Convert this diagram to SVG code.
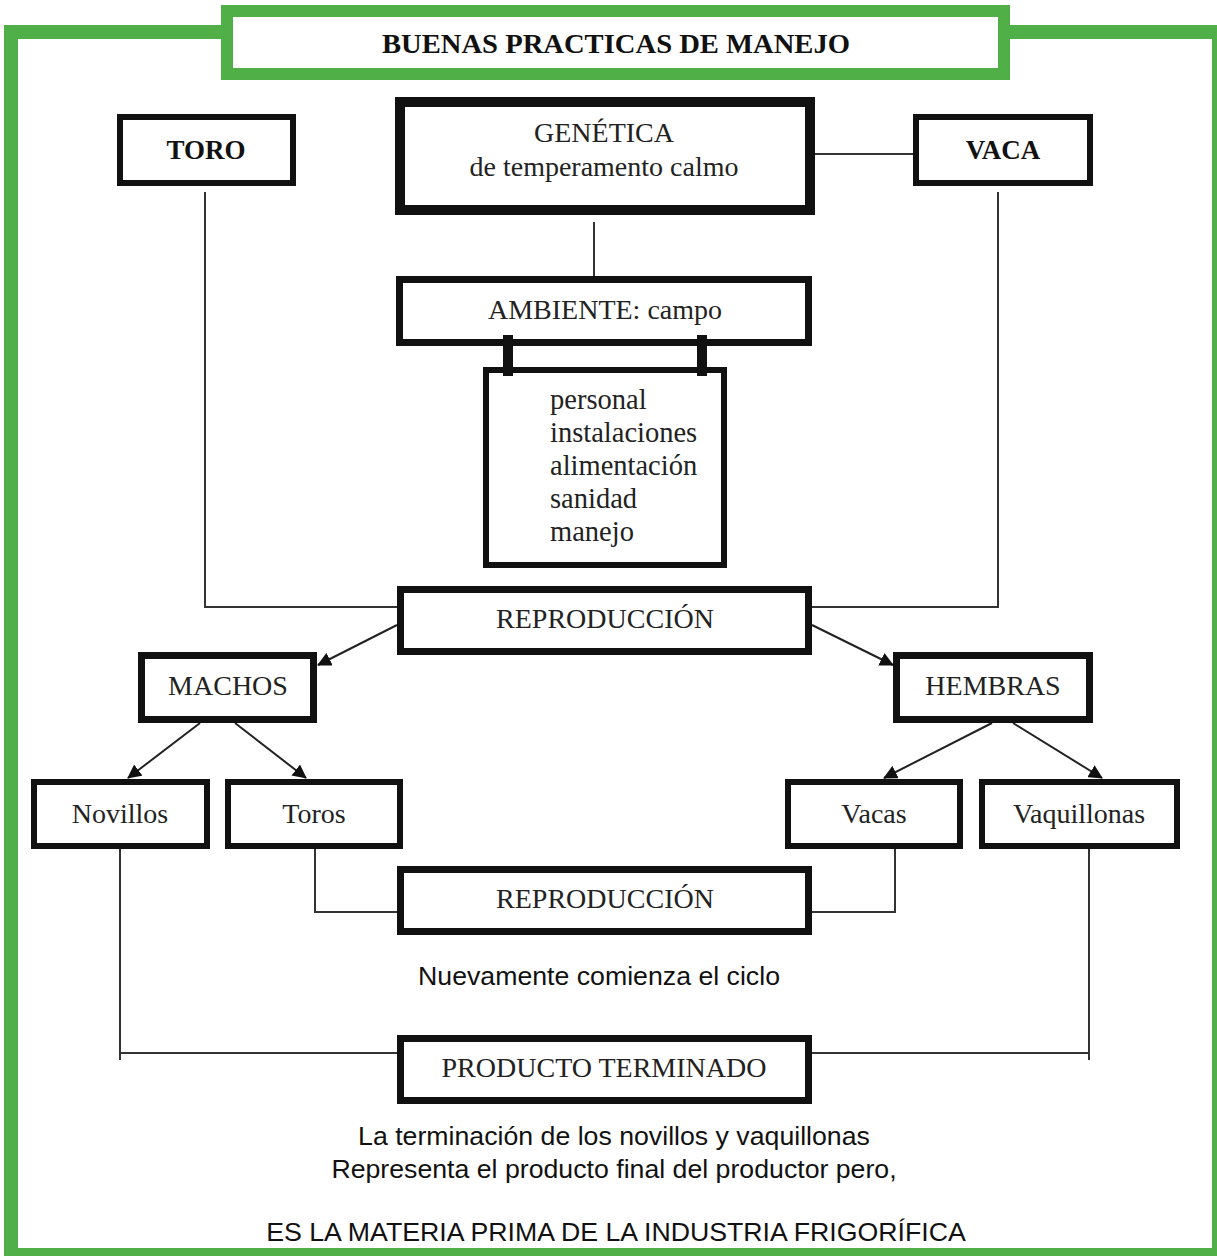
<svg xmlns="http://www.w3.org/2000/svg" width="1217" height="1256" viewBox="0 0 1217 1256">
<style>
.box{fill:#fff;stroke:#111;}
.t{font-family:"Liberation Serif","Times New Roman",serif;font-size:28px;fill:#222;text-anchor:middle;}
.tb{font-family:"Liberation Serif","Times New Roman",serif;font-size:27px;font-weight:bold;fill:#111;text-anchor:middle;}
.tl{font-family:"Liberation Serif","Times New Roman",serif;font-size:28.5px;fill:#222;}
.s{font-family:"Liberation Sans",Arial,sans-serif;font-size:26.7px;fill:#111;text-anchor:middle;}
.c{fill:none;stroke:#333;stroke-width:2;}
.a{fill:none;stroke:#222;stroke-width:2;}
</style>
<defs>
<marker id="ah" viewBox="0 0 14 14" refX="13" refY="7" markerWidth="14" markerHeight="14" markerUnits="userSpaceOnUse" orient="auto">
<path d="M0,0 L14,7 L0,14 Z" fill="#111"/>
</marker>
</defs>
<rect width="1217" height="1256" fill="#fff"/>
<g id="frame">
<rect x="11" y="32" width="1208" height="1223" fill="none" stroke="#50B047" stroke-width="14"/>
</g>
<g id="title">
<rect x="227" y="11" width="777" height="63" fill="#fff" stroke="#50B047" stroke-width="12"/>
<text x="616" y="53" class="tb" font-size="28" textLength="468" lengthAdjust="spacingAndGlyphs">BUENAS PRACTICAS DE MANEJO</text>
</g>
<g id="connectors">
<line class="c" x1="815" y1="154" x2="913" y2="154"/>
<line class="c" x1="594" y1="222" x2="594" y2="280"/>
<polyline class="c" points="205,192 205,607 398,607"/>
<polyline class="c" points="998,192 998,607 812,607"/>
<line class="a" x1="397" y1="625" x2="318" y2="665" marker-end="url(#ah)"/>
<line class="a" x1="812" y1="625" x2="893" y2="665" marker-end="url(#ah)"/>
<line class="a" x1="200" y1="723" x2="128" y2="778" marker-end="url(#ah)"/>
<line class="a" x1="235" y1="723" x2="306" y2="778" marker-end="url(#ah)"/>
<line class="a" x1="992" y1="723" x2="884" y2="778" marker-end="url(#ah)"/>
<line class="a" x1="1013" y1="723" x2="1102" y2="778" marker-end="url(#ah)"/>
<polyline class="c" points="315,849 315,912 398,912"/>
<polyline class="c" points="895,849 895,912 812,912"/>
<polyline class="c" points="120,849 120,1060"/>
<line class="c" x1="120" y1="1053" x2="398" y2="1053"/>
<polyline class="c" points="1089,849 1089,1060"/>
<line class="c" x1="812" y1="1053" x2="1089" y2="1053"/>
</g>
<g id="toro">
<rect class="box" x="120" y="117" width="173" height="66" stroke-width="6"/>
<text class="tb" x="206" y="159">TORO</text>
</g>
<g id="genetica">
<rect class="box" x="400" y="102" width="410" height="108" stroke-width="10"/>
<text class="t" x="604" y="142">GENÉTICA</text>
<text class="t" x="604" y="176">de temperamento calmo</text>
</g>
<g id="vaca">
<rect class="box" x="916" y="117" width="174" height="66" stroke-width="6"/>
<text class="tb" x="1003" y="159">VACA</text>
</g>
<g id="ambiente">
<rect class="box" x="399.5" y="279.5" width="409" height="63" stroke-width="7"/>
<text class="t" x="605" y="319">AMBIENTE: campo</text>
</g>
<g id="factores">
<rect class="box" x="486" y="370" width="238" height="195" stroke-width="6"/>
<rect x="503" y="335" width="10" height="41" fill="#111"/>
<rect x="697" y="335" width="10" height="41" fill="#111"/>
<text class="tl" x="550" y="409">personal</text>
<text class="tl" x="550" y="442">instalaciones</text>
<text class="tl" x="550" y="475">alimentación</text>
<text class="tl" x="550" y="508">sanidad</text>
<text class="tl" x="550" y="541">manejo</text>
</g>
<g id="reproduccion1">
<rect class="box" x="400.5" y="589.5" width="408" height="62" stroke-width="7"/>
<text class="t" x="605" y="628">REPRODUCCIÓN</text>
</g>
<g id="machos">
<rect class="box" x="141.5" y="655.5" width="172" height="64" stroke-width="7"/>
<text class="t" x="228" y="695">MACHOS</text>
</g>
<g id="hembras">
<rect class="box" x="896.5" y="655.5" width="193" height="64" stroke-width="7"/>
<text class="t" x="993" y="695">HEMBRAS</text>
</g>
<g id="novillos">
<rect class="box" x="34" y="782" width="173" height="64" stroke-width="6"/>
<text class="t" x="120" y="823">Novillos</text>
</g>
<g id="toros">
<rect class="box" x="228" y="782" width="172" height="64" stroke-width="6"/>
<text class="t" x="314" y="823">Toros</text>
</g>
<g id="vacas">
<rect class="box" x="788" y="782" width="172" height="64" stroke-width="6"/>
<text class="t" x="874" y="823">Vacas</text>
</g>
<g id="vaquillonas">
<rect class="box" x="982" y="782" width="195" height="64" stroke-width="6"/>
<text class="t" x="1079" y="823">Vaquillonas</text>
</g>
<g id="reproduccion2">
<rect class="box" x="400.5" y="869.5" width="408" height="62" stroke-width="7"/>
<text class="t" x="605" y="908">REPRODUCCIÓN</text>
</g>
<text class="s" x="599" y="985">Nuevamente comienza el ciclo</text>
<g id="producto">
<rect class="box" x="400.5" y="1038.5" width="408" height="62" stroke-width="7"/>
<text class="t" x="604" y="1077">PRODUCTO TERMINADO</text>
</g>
<text class="s" x="614" y="1145">La terminación de los novillos y vaquillonas</text>
<text class="s" x="614" y="1178">Representa el producto final del productor pero,</text>
<text class="s" x="616" y="1241">ES LA MATERIA PRIMA DE LA INDUSTRIA FRIGORÍFICA</text>
</svg>
